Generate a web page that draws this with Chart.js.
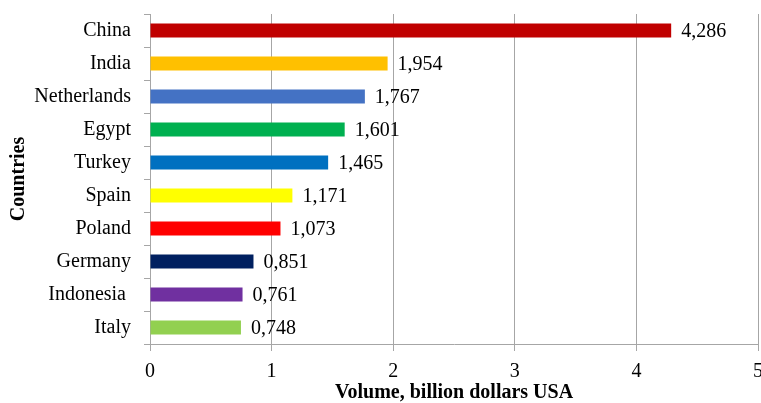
<!DOCTYPE html>
<html>
<head>
<meta charset="utf-8">
<script src="https://cdn.jsdelivr.net/npm/chart.js@4/dist/chart.umd.min.js"></script>
<style>
  html, body { margin: 0; padding: 0; background: #fff; }
  #wrap { width: 761px; height: 403px; }
</style>
</head>
<body>
<div id="wrap"><canvas id="chart" width="761" height="403"></canvas></div>
<script>
// === Data ===
const countries = ["China", "India", "Netherlands", "Egypt", "Turkey", "Spain", "Poland", "Germany", "Indonesia ", "Italy"];
const volumes = [4.286, 1.954, 1.767, 1.601, 1.465, 1.171, 1.073, 0.851, 0.761, 0.748];
const barColors = ["#C00000", "#FFC000", "#4472C4", "#00B050", "#0070C0", "#FFFF00", "#FF0000", "#002060", "#7030A0", "#92D050"];
const xTicks = [0, 1, 2, 3, 4, 5];

const FONT = "'Liberation Serif', 'Times New Roman', serif";
const GRID = "#a6a6a6";

// value labels at end of each bar, comma decimal
const valueLabels = {
  id: "valueLabels",
  afterDatasetsDraw(chart) {
    const c = chart.ctx;
    const meta = chart.getDatasetMeta(0);
    c.save();
    c.font = "20px " + FONT;
    c.fillStyle = "#000";
    c.textAlign = "left";
    c.textBaseline = "middle";
    meta.data.forEach((bar, i) => {
      c.fillText(volumes[i].toFixed(3).replace(".", ","), bar.x + 10, bar.y + 1);
    });
    c.restore();
  }
};

new Chart(document.getElementById("chart"), {
  type: "bar",
  data: {
    labels: countries,
    datasets: [{
      data: volumes,
      backgroundColor: barColors,
      borderWidth: 0,
      barPercentage: 0.43,
      categoryPercentage: 1
    }]
  },
  options: {
    indexAxis: "y",
    responsive: false,
    animation: false,
    layout: { padding: { top: 14, right: 3, left: 0, bottom: 0 } },
    plugins: { legend: { display: false }, tooltip: { enabled: false } },
    scales: {
      x: {
        min: 0,
        max: 5,
        afterBuildTicks: s => { s.ticks = xTicks.map(v => ({ value: v })); },
        afterFit: s => { s.height = 59; s.paddingLeft = 0; s.paddingRight = 0; },
        grid: { color: GRID, tickLength: 7, lineWidth: 1 },
        border: { color: GRID },
        ticks: { color: "#000", padding: 9, font: { family: FONT, size: 20 } },
        title: {
          display: true,
          text: "Volume, billion dollars USA",
          color: "#000",
          font: { family: FONT, size: 20, weight: "bold", lineHeight: 1 },
          padding: { top: 0, bottom: 0 }
        }
      },
      y: {
        afterFit: s => { s.width = 150; s.paddingTop = 0; s.paddingBottom = 0; },
        grid: { offset: true, drawOnChartArea: false, color: GRID, tickLength: 6 },
        border: { color: GRID },
        ticks: { color: "#000", padding: 13, font: { family: FONT, size: 20 } },
        title: {
          display: true,
          text: "Countries",
          color: "#000",
          font: { family: FONT, size: 20, weight: "bold", lineHeight: 1.2 },
          padding: { top: 7, bottom: 0 }
        }
      }
    }
  },
  plugins: [valueLabels]
});
</script>
</body>
</html>
